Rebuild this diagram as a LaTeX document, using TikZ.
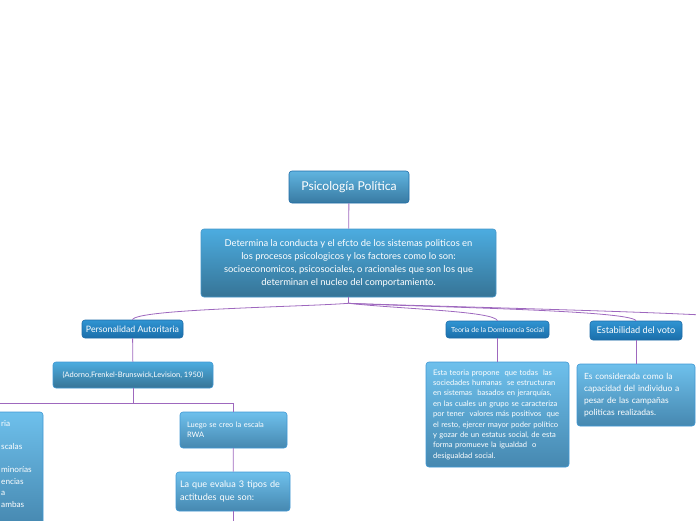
\documentclass[tikz,border=0pt]{standalone}
\usepackage{fontspec}
\setmainfont{Lato}

\definecolor{linkpurple}{RGB}{158,104,190}
\definecolor{boxline}{RGB}{30,108,168}
\definecolor{notetop}{RGB}{110,192,236}
\definecolor{notebot}{RGB}{70,136,176}
\definecolor{labeltop}{RGB}{48,148,210}
\definecolor{labelbot}{RGB}{26,110,170}

\tikzset{
	box/.style = {rounded corners = 3pt, draw = boxline, line width = 0.6pt, text = white, inner sep = 0pt},
	titlebox/.style = {box, top color = {rgb,255:red,96;green,180;blue,224}, bottom color = {rgb,255:red,56;green,122;blue,162}},
	descbox/.style = {box, draw = {rgb,255:red,70;green,150;blue,200}, top color = {rgb,255:red,76;green,172;blue,224}, bottom color = {rgb,255:red,54;green,116;blue,150}},
	labelbox/.style = {box, top color = labeltop, bottom color = labelbot},
	notebox/.style = {box, draw = {rgb,255:red,64;green,152;blue,212}, top color = notetop, bottom color = notebot, align = left},
	link/.style = {draw = linkpurple, line width = 0.8pt}
}

\begin{document}
\begin{tikzpicture}[x = 1pt, y = -1pt]

	\clip (0, 0) rectangle (696, 520);

	% Title + description

	\node [titlebox, minimum width = 120pt, minimum height = 32pt, font = \fontsize{12.2}{14}\selectfont] (titulo) at (349, 187) {Psicología Política};

	\node [descbox, minimum width = 295pt, minimum height = 68pt, align = center, font = \fontsize{9.4}{13}\selectfont] (desc) at (348.5, 263)
		{Determina la conducta y el efcto de los sistemas politicos en\\
		 los procesos psicologicos y los factores como lo son:\\
		 socioeconomicos, psicosociales, o racionales que son los que\\
		 determinan el nucleo del comportamiento.};

	\draw [link] (titulo) -- (desc);

	% Main branches

	\node [labelbox, minimum width = 101pt, minimum height = 18pt, font = \fontsize{8.8}{10}\selectfont] (autor) at (132.5, 329) {Personalidad Autoritaria};
	\node [labelbox, minimum width = 103pt, minimum height = 17pt, font = \fontsize{7}{8}\selectfont] (domin) at (497.5, 329.5) {Teoria de la Dominancia Social};
	\node [labelbox, minimum width = 92pt, minimum height = 19pt, font = \fontsize{9.2}{10}\selectfont] (voto) at (636, 330.5) {Estabilidad del voto};
	\coordinate (fuera) at (720, 316);

	\draw [link] (desc.south) -- ++(0, 6) coordinate (fork);
	\draw [link] (fork) .. controls (300, 307) and (136, 309) .. (autor.north);
	\draw [link] (fork) .. controls (400, 309) and (494, 311) .. (domin.north);
	\draw [link] (fork) .. controls (420, 307) and (630, 310) .. (voto.north);
	\draw [link] (fork) .. controls (420, 306) and (640, 311) .. (fuera);

	% Personalidad Autoritaria

	\node [descbox, draw = {rgb,255:red,64;green,152;blue,212}, minimum width = 160pt, minimum height = 26pt, font = \fontsize{7.5}{8}\selectfont] (adorno) at (133, 375) {(Adorno,Frenkel-Brunswick,Levision, 1950)};

	\node [notebox, minimum width = 126pt, minimum height = 114pt] (rasgos) at (-20, 469) {};
	\node [anchor = north west, align = left, text = white, inner sep = 0pt, font = \fontsize{8.2}{11.6}\selectfont] (rasgostxt) at (1, 420)
		{ria\\ \mbox{}\\ scalas\\ \mbox{}\\ minorías\\ encias\\ a\\ ambas};

	\node [notebox, minimum width = 107pt, minimum height = 36pt, text width = 93pt, font = \fontsize{7.5}{10}\selectfont] (luego) at (233.5, 430) {Luego se creo la escala\\RWA};

	\node [notebox, minimum width = 114pt, minimum height = 39pt, text width = 106pt, font = \fontsize{9.1}{13}\selectfont] (tipos) at (233, 491.5) {La que evalua 3 tipos de\\actitudes que son:};

	\draw [link] (autor) -- (adorno);
	\draw [link] (adorno.south) -- ++(0, 15) coordinate (split);
	\draw [link] (split) -| (luego.north);
	\draw [link] (split) -| (rasgos.north);
	\draw [link] (luego) -- (tipos);
	\draw [link] (tipos.south) -- ++(0, 20);

	% Teoria de la Dominancia Social

	\node [notebox, minimum width = 143pt, minimum height = 105pt, text width = 129pt, font = \fontsize{7.6}{10.4}\selectfont] (jerarq) at (497.5, 414.5)
		{Esta teoria propone \ que todas \ las\\
		 sociedades humanas \ se estructuran\\
		 en sistemas \ basados en jerarquías,\\
		 en las cuales un grupo se caracteriza\\
		 por tener \ valores más positivos \ que\\
		 el resto, ejercer mayor poder político\\
		 y gozar de un estatus social, de esta\\
		 forma promueve la igualdad \ o\\
		 desigualdad social.};

	\draw [link] (domin) -- (jerarq);

	% Estabilidad del voto

	\node [notebox, minimum width = 118pt, minimum height = 62pt, text width = 104pt, font = \fontsize{8.5}{12}\selectfont] (capac) at (636, 395)
		{Es considerada como la\\
		 capacidad del individuo a\\
		 pesar de las campañas\\
		 politicas realizadas.};

	\draw [link] (voto) -- (capac);

\end{tikzpicture}
\end{document}
